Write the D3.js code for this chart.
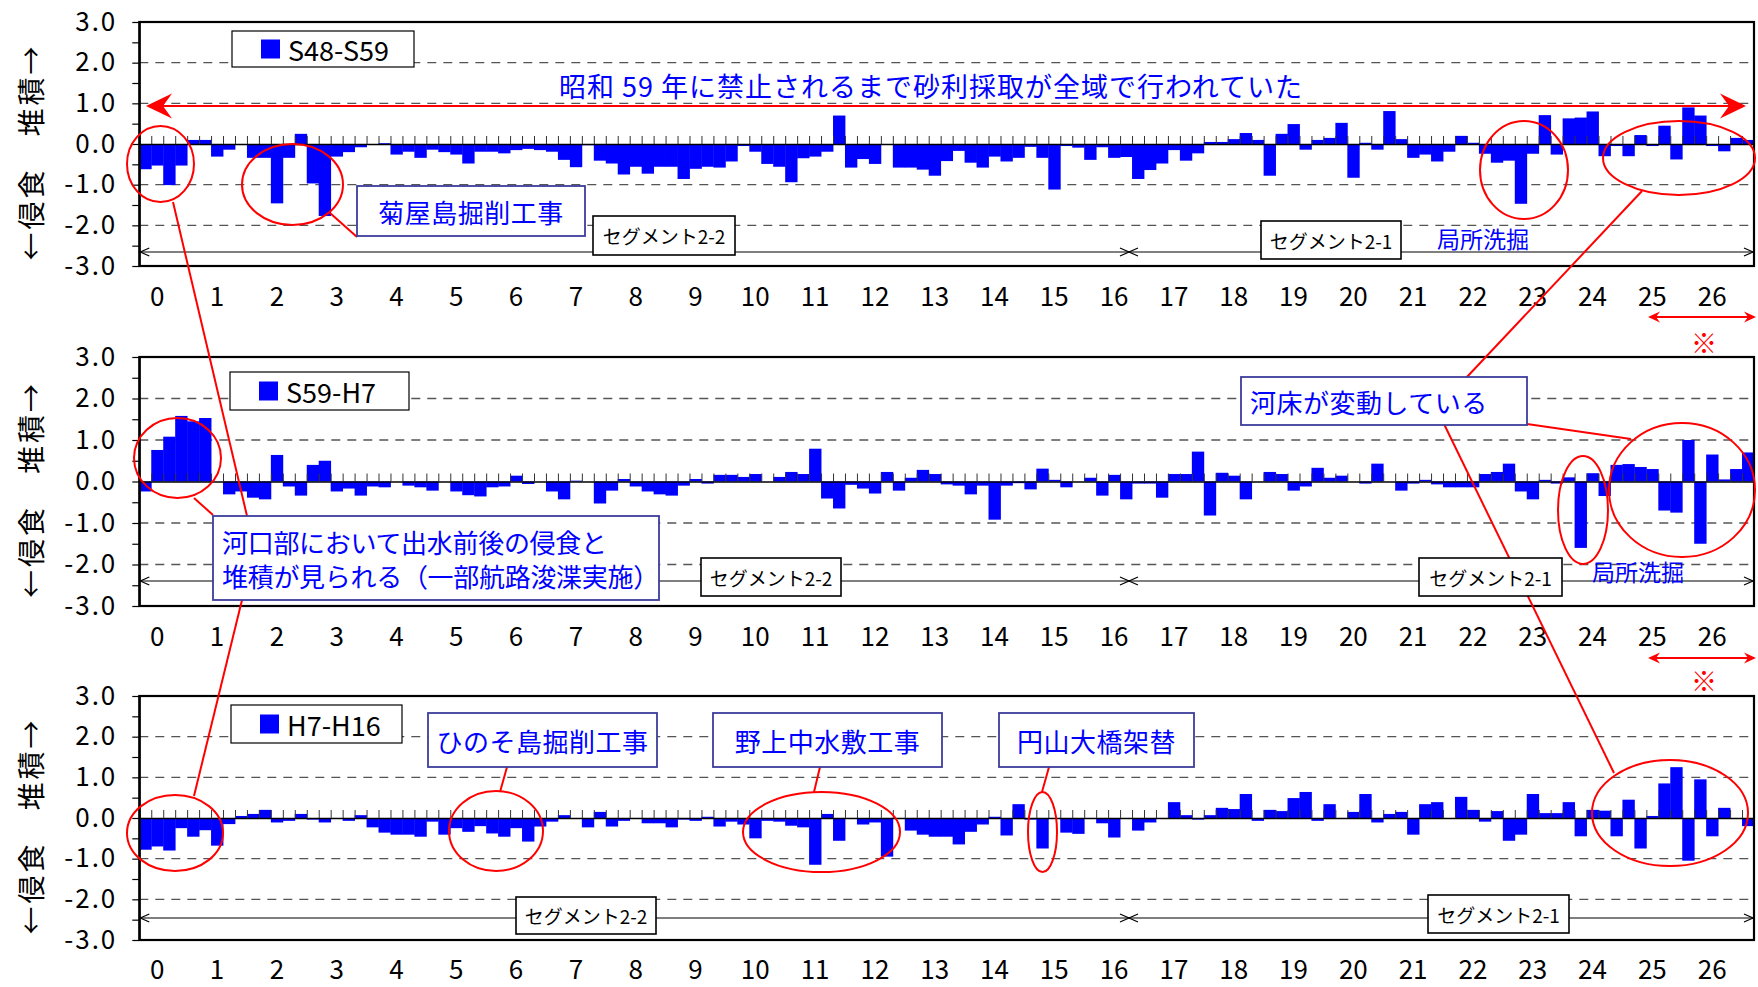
<!DOCTYPE html>
<html>
<head>
<meta charset="utf-8">
<script src="https://cdn.jsdelivr.net/npm/d3@7"></script>
<style>
  body { margin: 0; background: #fff; }
  text { font-family: "Noto Sans CJK JP", "Noto Sans", sans-serif; }
</style>
</head>
<body>
<svg id="chart" width="1758" height="987"></svg>
<script>
// distance from river mouth (km), one bar every 0.2 km
const km = [
  -0.2, 0, 0.2, 0.4, 0.6, 0.8,
  1, 1.2, 1.4, 1.6, 1.8, 2, 2.2, 2.4, 2.6, 2.8,
  3, 3.2, 3.4, 3.6, 3.8, 4, 4.2, 4.4, 4.6, 4.8,
  5, 5.2, 5.4, 5.6, 5.8, 6, 6.2, 6.4, 6.6, 6.8,
  7, 7.2, 7.4, 7.6, 7.8, 8, 8.2, 8.4, 8.6, 8.8,
  9, 9.2, 9.4, 9.6, 9.8, 10, 10.2, 10.4, 10.6, 10.8,
  11, 11.2, 11.4, 11.6, 11.8, 12, 12.2, 12.4, 12.6, 12.8,
  13, 13.2, 13.4, 13.6, 13.8, 14, 14.2, 14.4, 14.6, 14.8,
  15, 15.2, 15.4, 15.6, 15.8, 16, 16.2, 16.4, 16.6, 16.8,
  17, 17.2, 17.4, 17.6, 17.8, 18, 18.2, 18.4, 18.6, 18.8,
  19, 19.2, 19.4, 19.6, 19.8, 20, 20.2, 20.4, 20.6, 20.8,
  21, 21.2, 21.4, 21.6, 21.8, 22, 22.2, 22.4, 22.6, 22.8,
  23, 23.2, 23.4, 23.6, 23.8, 24, 24.2, 24.4, 24.6, 24.8,
  25, 25.2, 25.4, 25.6, 25.8, 26, 26.2, 26.4, 26.6
];

const tickLabels = [0, 1, 2, 3, 4, 5, 6, 7, 8, 9, 10, 11, 12, 13, 14, 15, 16, 17, 18, 19, 20, 21, 22, 23, 24, 25, 26];
const yTicks = [-3, -2.5, -2, -1.5, -1, -0.5, 0, 0.5, 1, 1.5, 2, 2.5, 3];

// average bed change (m) for each period
const s48_s59 = [
  -0.62, -0.53, -1.01, -0.53, 0.10, 0.10, -0.31, -0.14, -0.02, -0.34,
  -0.34, -1.46, -0.34, 0.25, -0.97, -1.77, -0.31, -0.20, -0.08, 0.00,
  0.02, -0.26, -0.19, -0.34, -0.14, -0.20, -0.26, -0.48, -0.19, -0.19,
  -0.23, -0.15, -0.12, -0.15, -0.19, -0.39, -0.57, -0.03, -0.41, -0.48,
  -0.75, -0.56, -0.73, -0.56, -0.56, -0.86, -0.61, -0.56, -0.58, -0.43,
  -0.05, -0.19, -0.49, -0.56, -0.94, -0.35, -0.31, -0.19, 0.70, -0.58,
  -0.37, -0.49, -0.02, -0.58, -0.58, -0.63, -0.78, -0.42, -0.17, -0.46,
  -0.58, -0.31, -0.43, -0.34, -0.07, -0.34, -1.12, -0.05, -0.09, -0.39,
  -0.08, -0.34, -0.32, -0.86, -0.64, -0.48, -0.15, -0.41, -0.23, 0.05,
  0.05, 0.12, 0.27, 0.10, -0.78, 0.25, 0.49, -0.14, 0.10, 0.15,
  0.52, -0.83, 0.03, -0.14, 0.81, 0.12, -0.34, -0.26, -0.43, -0.19,
  0.20, 0.03, -0.24, -0.46, -0.41, -1.47, -0.24, 0.71, -0.26, 0.63,
  0.65, 0.80, -0.30, -0.05, -0.30, 0.22, -0.05, 0.45, -0.38, 0.90,
  0.70, -0.05, -0.18, 0.15, 0.10
];

const s59_h7 = [
  -0.24, 0.76, 1.08, 1.58, 1.45, 1.53, 0.00, -0.31, -0.24, -0.39,
  -0.43, 0.64, -0.12, -0.34, 0.40, 0.50, -0.24, -0.17, -0.34, -0.12,
  -0.14, 0.00, -0.10, -0.14, -0.22, 0.00, -0.24, -0.33, -0.36, -0.14,
  -0.12, 0.14, -0.06, 0.00, -0.24, -0.43, 0.02, 0.00, -0.53, -0.22,
  0.06, -0.12, -0.24, -0.31, -0.34, -0.10, 0.06, -0.05, 0.16, 0.16,
  0.11, 0.18, 0.00, 0.11, 0.23, 0.18, 0.79, -0.41, -0.65, -0.08,
  -0.17, -0.29, 0.23, -0.22, 0.09, 0.28, 0.18, -0.07, -0.10, -0.31,
  -0.10, -0.92, -0.10, -0.04, -0.19, 0.31, 0.04, -0.14, 0.00, 0.09,
  -0.34, 0.16, -0.43, -0.05, -0.05, -0.39, 0.18, 0.18, 0.72, -0.82,
  0.21, 0.14, -0.43, 0.00, 0.23, 0.18, -0.22, -0.12, 0.33, 0.09,
  0.14, 0.00, -0.05, 0.43, 0.00, -0.22, -0.05, 0.04, -0.07, -0.14,
  -0.14, -0.14, 0.18, 0.23, 0.43, -0.24, -0.43, 0.04, -0.05, 0.10,
  -1.60, 0.20, -0.35, 0.40, 0.42, 0.35, 0.30, -0.70, -0.75, 1.00,
  -1.50, 0.65, 0.05, 0.30, 0.70
];

const h7_h16 = [
  -0.78, -0.70, -0.80, -0.25, -0.46, -0.30, -0.68, -0.15, 0.05, 0.10,
  0.20, -0.11, -0.07, 0.10, -0.04, -0.11, 0.00, -0.07, 0.07, -0.23,
  -0.36, -0.41, -0.41, -0.46, -0.09, -0.41, -0.25, -0.34, -0.20, -0.38,
  -0.46, -0.25, -0.58, -0.21, -0.09, 0.07, 0.00, -0.23, 0.15, -0.21,
  -0.07, -0.02, -0.13, -0.13, -0.23, -0.04, -0.07, 0.03, -0.21, -0.09,
  -0.16, -0.50, -0.07, -0.09, -0.19, -0.23, -1.15, 0.10, -0.56, -0.02,
  -0.16, -0.11, -0.95, 0.00, -0.31, -0.41, -0.46, -0.46, -0.65, -0.34,
  -0.16, 0.03, -0.43, 0.34, -0.04, -0.75, 0.00, -0.36, -0.39, 0.00,
  -0.13, -0.48, -0.02, -0.31, -0.11, -0.02, 0.39, 0.07, -0.04, 0.07,
  0.25, 0.22, 0.59, -0.07, 0.20, 0.17, 0.49, 0.64, -0.07, 0.34,
  0.00, 0.15, 0.59, -0.11, 0.10, 0.15, -0.41, 0.34, 0.39, 0.00,
  0.52, 0.20, -0.09, 0.17, -0.56, -0.41, 0.59, 0.12, 0.12, 0.39,
  -0.45, 0.20, 0.18, -0.45, 0.45, -0.75, 0.05, 0.85, 1.25, -1.05,
  0.95, -0.45, 0.25, 0.00, -0.20
];

const svg = d3.select('#chart');
const plotLeft = 139.3, plotRight = 1754;
const blue = '#0000ff', red = '#ff0000', boxBlue = '#3c3c9c';

const panels = [
  { name: 'S48-S59', values: s48_s59, top: 22, bottom: 266, labelY: 297, legend: [232, 31, 182, 36], segY: 252 },
  { name: 'S59-H7', values: s59_h7, top: 357, bottom: 606, labelY: 637, legend: [230, 372, 179, 38], segY: 581 },
  { name: 'H7-H16', values: h7_h16, top: 696, bottom: 940, labelY: 970, legend: [231, 705, 171, 38], segY: 918 }
];

const x = d3.scaleBand().domain(km).range([plotLeft, plotRight]).paddingInner(0).paddingOuter(0);
// bar boundaries for the little ticks on the zero line
const xEdge = d3.scaleLinear().domain([0, km.length]).range([plotLeft, plotRight]);
const edges = d3.range(0, km.length + 1);

const yFmt = d => Number.isInteger(d) ? (d < 0 ? '-' : '') + Math.abs(d).toFixed(1) : '';

panels.forEach(p => {
  const g = svg.append('g');
  const y = d3.scaleLinear().domain([-3, 3]).range([p.bottom, p.top]);

  // dashed grid
  g.append('g').selectAll('line')
    .data([-2, -1, 1, 2])
    .enter().append('line')
    .attr('x1', plotLeft).attr('x2', plotRight)
    .attr('y1', d => y(d)).attr('y2', d => y(d))
    .attr('stroke', '#555').attr('stroke-width', 1.3)
    .attr('stroke-dasharray', '9,7');

  // bars
  g.append('g').selectAll('rect')
    .data(p.values)
    .enter().append('rect')
    .attr('x', (d, i) => x(km[i]))
    .attr('width', x.bandwidth() + 0.4)
    .attr('y', d => y(Math.max(0, d)))
    .attr('height', d => Math.abs(y(d) - y(0)))
    .attr('fill', blue);

  // zero line with ticks between bars
  const zero = g.append('g')
    .attr('transform', 'translate(0,' + y(0) + ')')
    .call(d3.axisTop(xEdge).tickValues(edges).tickSize(8).tickSizeOuter(0).tickFormat(''));
  zero.select('.domain').attr('stroke', '#000').attr('stroke-width', 1.6);
  zero.selectAll('.tick line').attr('stroke', '#333').attr('stroke-width', 1);

  // frame
  g.append('rect')
    .attr('x', plotLeft).attr('y', p.top)
    .attr('width', plotRight - plotLeft).attr('height', p.bottom - p.top)
    .attr('fill', 'none').attr('stroke', '#000').attr('stroke-width', 2.2);

  // y axis
  const ya = g.append('g')
    .attr('transform', 'translate(' + plotLeft + ',0)')
    .call(d3.axisLeft(y).tickValues(yTicks).tickSize(7).tickSizeOuter(0).tickPadding(15).tickFormat(yFmt));
  ya.select('.domain').attr('stroke-width', 2);
  ya.selectAll('.tick line').attr('stroke', '#000').attr('stroke-width', 1.2);
  ya.selectAll('text').attr('font-size', 26).attr('letter-spacing', 2).attr('fill', '#000')
    .style('font-family', '"Noto Sans CJK JP", sans-serif');

  // x labels under the panel
  const xa = g.append('g')
    .attr('transform', 'translate(0,' + p.labelY + ')')
    .call(d3.axisBottom(x).tickValues(tickLabels).tickSize(0).tickFormat(d => String(d)));
  xa.select('.domain').remove();
  xa.selectAll('text').attr('y', 0).attr('dy', '0.36em').attr('font-size', 26).attr('fill', '#000')
    .style('font-family', '"Noto Sans CJK JP", sans-serif');

  // y axis title
  g.append('text')
    .attr('transform', 'translate(30,' + (y(0) + 8) + ') rotate(-90)')
    .attr('text-anchor', 'middle').attr('dominant-baseline', 'central')
    .attr('font-size', 28).attr('letter-spacing', 3)
    .text('←侵食　堆積→');

  // legend
  const [lx, ly, lw, lh] = p.legend;
  g.append('rect').attr('x', lx).attr('y', ly).attr('width', lw).attr('height', lh)
    .attr('fill', '#fff').attr('stroke', '#000').attr('stroke-width', 1.2);
  g.append('rect').attr('x', lx + 29).attr('y', ly + lh / 2 - 9.5).attr('width', 19).attr('height', 19)
    .attr('fill', blue);
  g.append('text').attr('x', lx + 56).attr('y', ly + lh / 2).attr('dominant-baseline', 'central')
    .attr('font-size', 27).text(p.name);

  // segment double arrows
  const seg = g.append('g').attr('stroke', '#000').attr('stroke-width', 1.2).attr('fill', 'none');
  [[plotLeft + 1, 1129], [1129, plotRight - 1]].forEach(([a, b]) => {
    seg.append('line').attr('x1', a).attr('x2', b).attr('y1', p.segY).attr('y2', p.segY);
    seg.append('path').attr('d', `M${a + 9},${p.segY - 4}L${a},${p.segY}L${a + 9},${p.segY + 4}`);
    seg.append('path').attr('d', `M${b - 9},${p.segY - 4}L${b},${p.segY}L${b - 9},${p.segY + 4}`);
  });
});

// ---- annotations ----
const ann = svg.append('g');

function stealth(tx, ty, dir, len, half, notch) {
  return `M${tx},${ty}L${tx + dir * len},${ty - half}L${tx + dir * notch},${ty}L${tx + dir * len},${ty + half}Z`;
}

// big red arrow in first panel
ann.append('line').attr('x1', 155).attr('x2', 1737).attr('y1', 106).attr('y2', 106)
  .attr('stroke', red).attr('stroke-width', 2);
ann.append('path').attr('d', stealth(146, 106, 1, 26, 12.5, 17)).attr('fill', red);
ann.append('path').attr('d', stealth(1746, 106, -1, 26, 12.5, 17)).attr('fill', red);

// small red arrows + ※
[[317, 341], [658, 679]].forEach(([ay, ty]) => {
  ann.append('line').attr('x1', 1654).attr('x2', 1750).attr('y1', ay).attr('y2', ay)
    .attr('stroke', red).attr('stroke-width', 1.8);
  ann.append('path').attr('d', stealth(1648, ay, 1, 12, 5.5, 8)).attr('fill', red);
  ann.append('path').attr('d', stealth(1756, ay, -1, 12, 5.5, 8)).attr('fill', red);
  ann.append('text').attr('x', 1704).attr('y', ty).attr('text-anchor', 'middle')
    .attr('dominant-baseline', 'central').attr('font-size', 26).attr('fill', red).text('※');
});

const ellipses = [
  [160.5, 164, 33.5, 38], [292.5, 184.5, 50.5, 40.5], [1524, 170, 44, 49], [1679, 158, 76, 37],
  [177.5, 458, 43.5, 40], [1583, 510, 25, 54], [1682, 490, 73, 67],
  [175, 833, 48, 38], [496, 831, 47, 40], [821.5, 832, 78.5, 40], [1042.5, 832, 14.5, 40], [1670, 813, 78, 53]
];
ann.selectAll('ellipse').data(ellipses).enter().append('ellipse')
  .attr('cx', d => d[0]).attr('cy', d => d[1]).attr('rx', d => d[2]).attr('ry', d => d[3])
  .attr('fill', 'none').attr('stroke', red).attr('stroke-width', 2);

const leaders = [
  [173, 202, 247, 516], [242, 600, 194, 796], [330, 213, 357, 237], [194, 498, 213, 515],
  [1466, 378, 1642, 191], [1527, 424, 1631, 439], [1444, 424, 1614, 773],
  [507, 767, 500, 792], [820, 767, 814, 792], [1049, 767, 1042, 792]
];
ann.selectAll('line.leader').data(leaders).enter().append('line').attr('class', 'leader')
  .attr('x1', d => d[0]).attr('y1', d => d[1]).attr('x2', d => d[2]).attr('y2', d => d[3])
  .attr('stroke', red).attr('stroke-width', 2);

// blue bordered notes
const notes = [
  { x: 357, y: 186, w: 228, h: 50, lines: ['菊屋島掘削工事'], ls: 0.5 },
  { x: 213, y: 516, w: 446, h: 84, lines: ['河口部において出水前後の侵食と', '堆積が見られる（一部航路浚渫実施）'], left: true, ls: -0.3 },
  { x: 1241, y: 377, w: 286, h: 48, lines: ['河床が変動している'], left: true, ls: 0.5 },
  { x: 428, y: 713, w: 229, h: 54, lines: ['ひのそ島掘削工事'], ls: 0.5 },
  { x: 713, y: 713, w: 229, h: 54, lines: ['野上中水敷工事'], ls: 0.5 },
  { x: 999, y: 713, w: 195, h: 54, lines: ['円山大橋架替'], ls: 0.5 }
];
notes.forEach(n => {
  ann.append('rect').attr('x', n.x).attr('y', n.y).attr('width', n.w).attr('height', n.h)
    .attr('fill', '#fff').attr('stroke', boxBlue).attr('stroke-width', 1.8);
  const lh = 34;
  n.lines.forEach((t, i) => {
    ann.append('text')
      .attr('x', n.left ? n.x + 9 : n.x + n.w / 2)
      .attr('y', n.y + n.h / 2 + (i - (n.lines.length - 1) / 2) * lh)
      .attr('text-anchor', n.left ? 'start' : 'middle')
      .attr('dominant-baseline', 'central')
      .attr('font-size', 26).attr('letter-spacing', n.ls).attr('fill', blue).text(t);
  });
});

// segment boxes
const segBoxes = [
  [593, 216, 142, 39, 'セグメント2-2'], [1261, 221, 140, 38, 'セグメント2-1'],
  [701, 558, 140, 38, 'セグメント2-2'], [1419, 558, 143, 38, 'セグメント2-1'],
  [516, 897, 140, 37, 'セグメント2-2'], [1428, 895, 141, 38, 'セグメント2-1']
];
segBoxes.forEach(([bx, by, bw, bh, t]) => {
  ann.append('rect').attr('x', bx).attr('y', by).attr('width', bw).attr('height', bh)
    .attr('fill', '#fff').attr('stroke', '#000').attr('stroke-width', 1.6);
  ann.append('text').attr('x', bx + bw / 2).attr('y', by + bh / 2)
    .attr('text-anchor', 'middle').attr('dominant-baseline', 'central')
    .attr('font-size', 19).text(t);
});

// free blue text
ann.append('text').attr('x', 931).attr('y', 85).attr('text-anchor', 'middle')
  .attr('dominant-baseline', 'central').attr('font-size', 27).attr('letter-spacing', 1).attr('fill', blue)
  .text('昭和 59 年に禁止されるまで砂利採取が全域で行われていた');
[[1437, 238], [1592, 571]].forEach(([tx, ty]) => {
  ann.append('text').attr('x', tx).attr('y', ty).attr('dominant-baseline', 'central')
    .attr('font-size', 23).attr('fill', blue).text('局所洗掘');
});
</script>
</body>
</html>
